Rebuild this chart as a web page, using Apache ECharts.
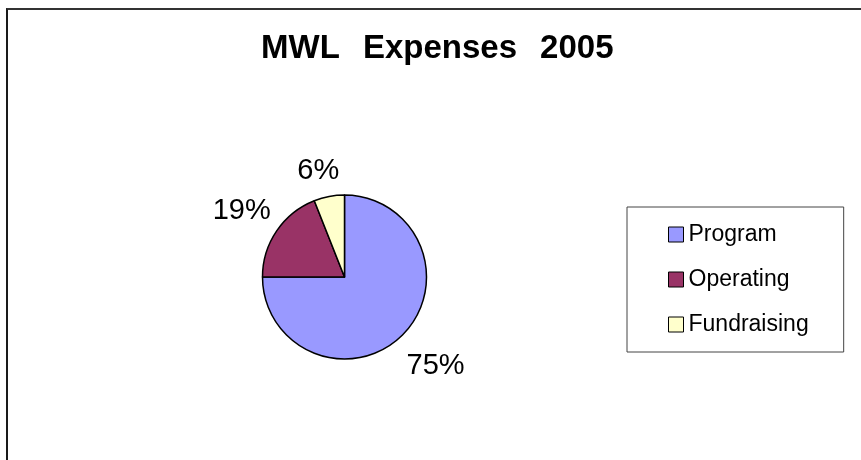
<!DOCTYPE html>
<html>
<head>
<meta charset="utf-8">
<script src="https://cdn.jsdelivr.net/npm/echarts@6/dist/echarts.min.js"></script>
<style>
  html, body { margin: 0; padding: 0; background: #fff; }
  .wrap { position: relative; width: 861px; height: 460px; overflow: hidden; }
  .chart { width: 861px; height: 460px; }
  .frame {
    position: absolute; left: 6px; top: 8px; right: -20px; bottom: -20px;
    border-top: 2px solid #333; border-left: 2px solid #1a1a1a;
    pointer-events: none;
  }
</style>
</head>
<body>
<div class="wrap">
  <div id="chart" class="chart"></div>
  <div class="frame"></div>
</div>
<script>
const categories = ['Program', 'Operating', 'Fundraising']
const shares = [75, 19, 6]
const colors = ['#9999FF', '#993366', '#FFFFCC']

// how far each label sits out from the rim, and half its width (to centre it)
const labelLen = [44, 35, 26]
const labelShift = [-27, -23, -15]

let chart = echarts.init(document.getElementById('chart'))

chart.setOption({
  animation: false,
  title: {
    text: 'MWL\u2002\u2009Expenses\u2002\u20092005',
    left: 261,
    top: 32,
    padding: 0,
    textStyle: {
      fontFamily: 'Liberation Sans, Arial, sans-serif',
      fontSize: 33,
      fontWeight: 'bold',
      color: '#000'
    }
  },
  legend: {
    orient: 'vertical',
    left: 627,
    top: 207,
    padding: [16, 35, 16, 41],
    itemGap: 22,
    itemWidth: 15,
    itemHeight: 15,
    icon: 'rect',
    borderColor: '#444',
    borderWidth: 1,
    data: categories,
    itemStyle: { borderColor: '#000', borderWidth: 1 },
    textStyle: {
      fontFamily: 'Liberation Sans, Arial, sans-serif',
      fontSize: 23,
      color: '#000'
    }
  },
  series: [
    {
      type: 'pie',
      center: [344.5, 277],
      radius: 82,
      startAngle: 90,
      clockwise: true,
      avoidLabelOverlap: false,
      silent: true,
      itemStyle: { borderColor: '#000', borderWidth: 1.5 },
      label: {
        show: true,
        position: 'outside',
        formatter: '{d}%',
        fontFamily: 'Liberation Sans, Arial, sans-serif',
        fontSize: 29,
        color: '#000'
      },
      data: categories.map((name, i) => ({
        name: name,
        value: shares[i],
        itemStyle: { color: colors[i] },
        label: { distanceToLabelLine: labelShift[i] },
        labelLine: { show: false, length: labelLen[i], length2: 0 }
      }))
    }
  ]
})
</script>
</body>
</html>
